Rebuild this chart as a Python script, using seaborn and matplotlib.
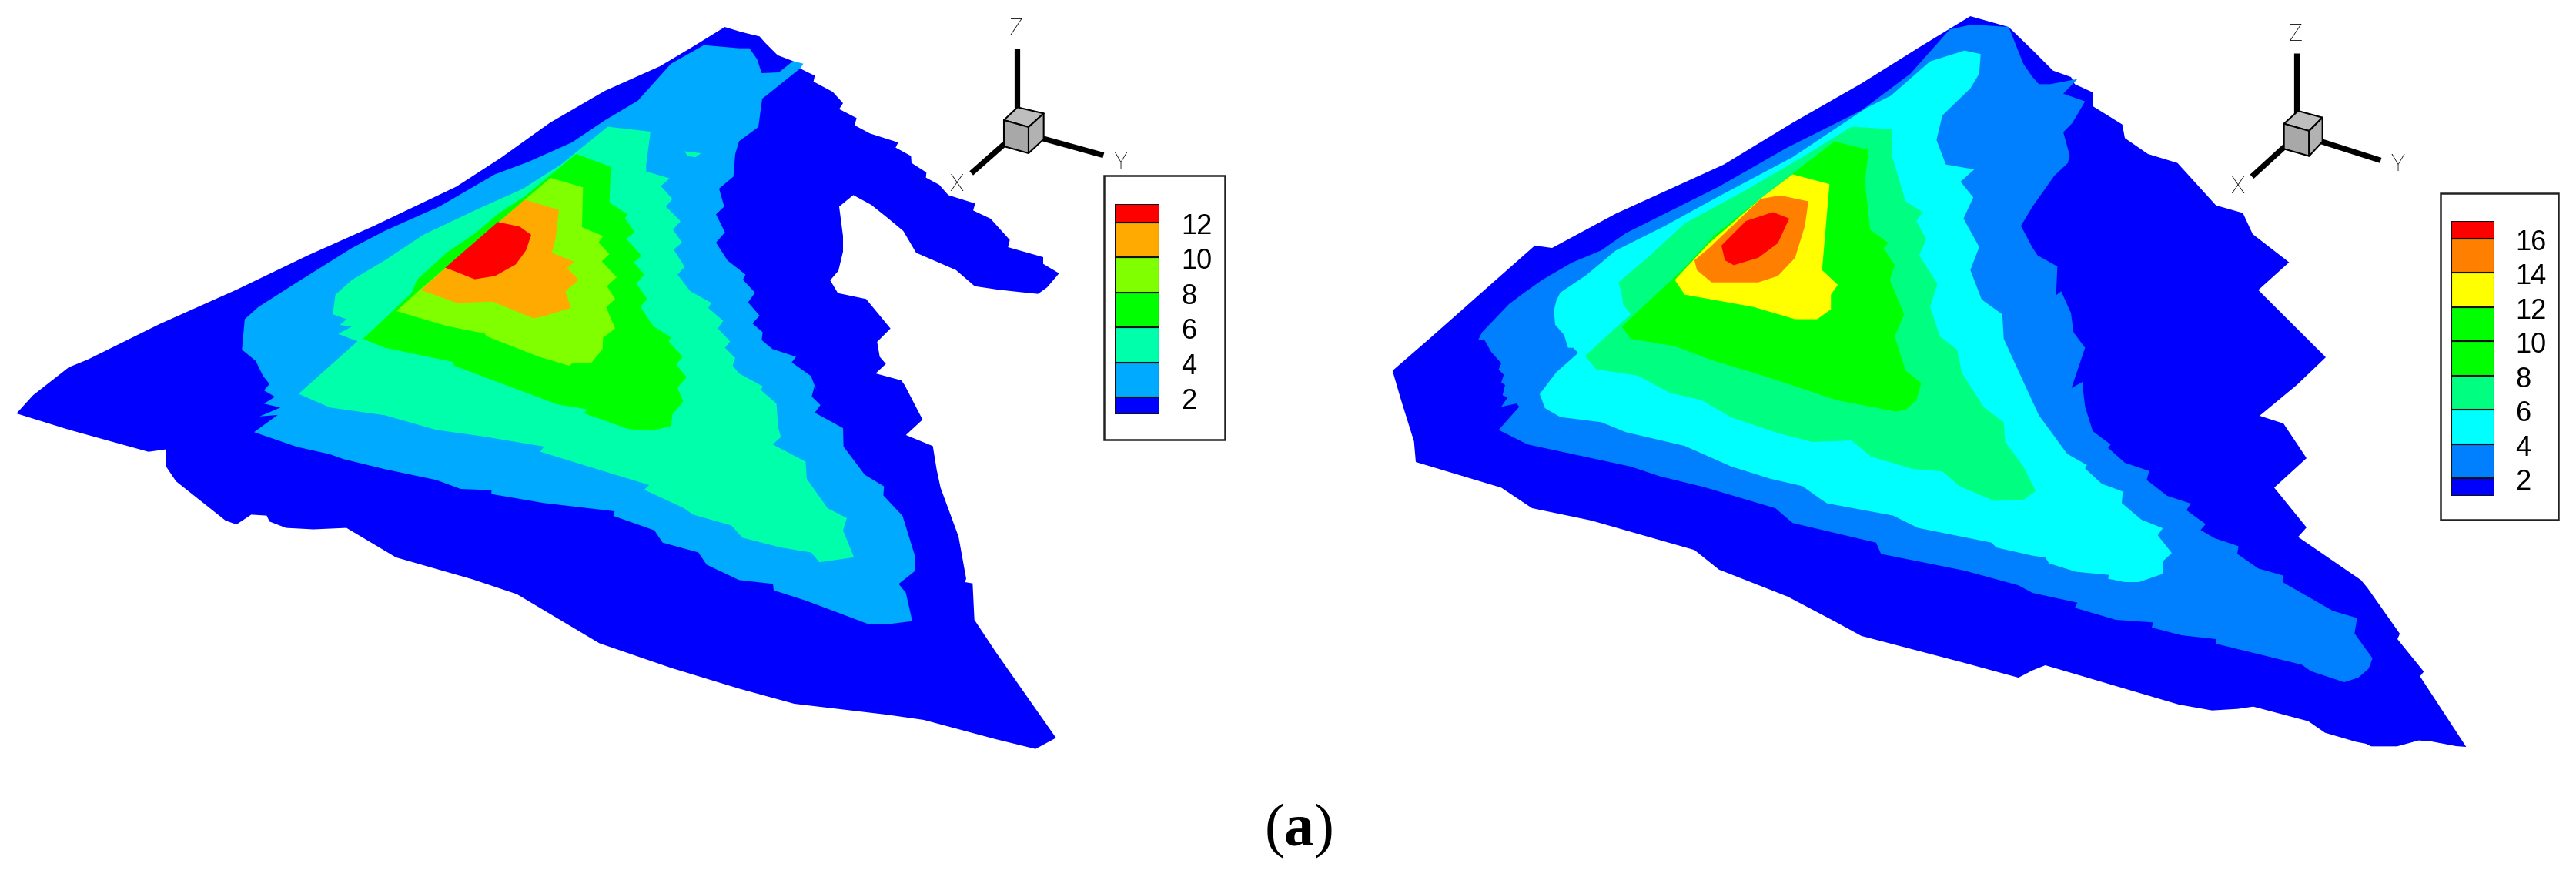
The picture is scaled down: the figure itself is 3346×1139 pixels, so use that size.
"""
Contour maps (two panels) with triad and level legend, digitised from the figure.
"""

import matplotlib
matplotlib.use('Agg')
import matplotlib.pyplot as plt
import seaborn as sns

# ---------------------------------------------------------------------------
# Digitising frames: crop origin and scale (x0, y0, sx, sy) of the traced crops
# ---------------------------------------------------------------------------
Z1 = (0, 0, 1.4, 1.568)
Z2 = (1780, 0, 1.568, 1.568)
Z6 = (960, 20, 3, 3)
Z7 = (960, 500, 3, 3)
Z8 = (2640, 20, 3, 3)
Z9 = (2640, 500, 3, 3)
Z10 = (3060, 780, 3, 3)
ZC = (500, 200, 3, 3)
ZD = (1780, 380, 3, 3)

# ---------------------------------------------------------------------------
# Legends
# ---------------------------------------------------------------------------
LEFT_LEVELS = [2, 4, 6, 8, 10, 12]
LEFT_RANGE = (1.03, 13.06)
LEFT_COLORS = ['#0000ff', '#00aaff', '#00ffaa', '#00ff00', '#7fff00', '#ffaa00', '#ff0000']

RIGHT_LEVELS = [2, 4, 6, 8, 10, 12, 14, 16]
RIGHT_RANGE = (0.96, 17.04)
RIGHT_COLORS = ['#0000ff', '#0080ff', '#00ffff', '#00ff80', '#00ff00', '#00ff00', '#ffff00', '#ff8000', '#ff0000']

# ---------------------------------------------------------------------------
# Left panel: filled contour regions, lowest band first
# ---------------------------------------------------------------------------
L1 = [
    (Z1, [(30, 842), (60, 805), (125, 748), (160, 732), (290, 660), (430, 590), (560, 520), (680, 460),
          (830, 380), (910, 322), (1000, 250), (1100, 185), (1200, 135), (1260, 95), (1318, 55)]),
    (Z6, [(0, 62), (30, 70), (80, 82), (100, 105), (150, 155), (210, 178), (240, 208), (295, 235), (290, 258),
          (365, 298), (405, 342), (390, 365), (458, 400), (450, 428), (510, 460), (620, 495), (610, 515),
          (670, 548), (672, 575), (730, 612), (728, 632), (780, 660), (815, 700), (920, 733), (912, 760),
          (980, 792), (1055, 875), (1048, 903), (1185, 942), (1185, 968), (1247, 1005), (1200, 1060),
          (1165, 1085), (1095, 1078), (1005, 1068), (918, 1055), (845, 992), (690, 925), (640, 840),
          (580, 790), (515, 738), (445, 700), (390, 745), (405, 860), (405, 920), (387, 995), (355, 1032),
          (385, 1082), (495, 1105), (590, 1220), (538, 1272), (548, 1330), (572, 1358), (532, 1395),
          (632, 1422)]),
    (Z7, [(645, 0), (715, 135), (650, 195), (755, 238), (770, 330), (785, 400), (855, 590), (885, 755),
          (880, 768), (910, 773), (917, 915), (1000, 1040), (1235, 1375), (1155, 1418), (1000, 1380),
          (720, 1305), (580, 1285), (215, 1242), (0, 1183)]),
    (Z1, [(1220, 1360), (1090, 1310), (1030, 1270), (940, 1210), (860, 1180), (720, 1135), (660, 1095),
          (630, 1075), (570, 1078), (520, 1075), (490, 1062), (485, 1050), (457, 1048), (430, 1068),
          (410, 1060), (320, 980), (302, 950), (302, 915), (270, 920), (125, 875)]),
]
L2 = [
    (Z1, [(462, 880), (505, 845), (472, 848), (510, 830), (480, 822), (500, 808), (480, 795), (490, 782),
          (478, 765), (465, 735), (440, 712), (445, 650), (470, 625), (540, 575), (640, 505), (700, 470),
          (800, 420), (900, 355), (960, 330), (1040, 290), (1100, 245), (1160, 205), (1220, 130), (1280, 92)]),
    (Z6, [(0, 128), (40, 128), (70, 170), (88, 225), (155, 222), (210, 178), (250, 188), (240, 205), (90, 325),
          (75, 435), (0, 490)]),
    (ZC, [(1365, 0), (1358, 88), (1302, 135), (1322, 205), (1290, 235), (1325, 305), (1290, 345), (1335, 415),
          (1380, 450)]),
    (Z6, [(25, 1010), (15, 1030), (62, 1080), (35, 1118), (80, 1170), (52, 1200), (92, 1235),
          (88, 1265), (130, 1300), (222, 1330), (205, 1352), (280, 1405), (305, 1470)]),
    (Z7, [(295, 0), (283, 45), (317, 78), (295, 108), (405, 168), (407, 240), (490, 350), (565, 395),
          (562, 430), (637, 510), (685, 665), (685, 725), (622, 775), (650, 810), (675, 920), (595, 930),
          (500, 930), (260, 840), (135, 800), (132, 775), (0, 760)]),
    (Z1, [(1285, 1150), (1270, 1125), (1205, 1105), (1190, 1080)]),
    (ZC, [(890, 1410), (895, 1392), (620, 1360), (415, 1325), (415, 1310), (295, 1305), (200, 1270), (0, 1228)]),
    (Z1, [(625, 935), (600, 925), (540, 910)]),
]
L3 = [
    (Z1, [(543, 802), (650, 695), (615, 680), (640, 665), (618, 662), (630, 650), (605, 640), (610, 600),
          (640, 570), (700, 530), (770, 478), (870, 425), (950, 385), (1020, 335), (1105, 258), (1183, 268)]),
    (ZC, [(1018, 40), (1018, 68), (1110, 95), (1075, 125), (1120, 175), (1095, 205), (1152, 262), (1122, 295),
          (1158, 345), (1125, 372), (1168, 440), (1140, 470), (1190, 535), (1272, 580), (1260, 600), (1318, 650),
          (1297, 680), (1345, 730), (1325, 755), (1365, 795), (1355, 825), (1380, 855), (1472, 905), (1465, 920),
          (1500, 950)]),
    (Z1, [(1412, 822), (1415, 870), (1420, 890), (1405, 905), (1465, 940), (1467, 975),
          (1505, 1035), (1540, 1055), (1533, 1080), (1553, 1135), (1490, 1145), (1475, 1125), (1420, 1115),
          (1350, 1095), (1330, 1070)]),
    (ZC, [(1200, 1405), (1165, 1380), (1010, 1308), (1030, 1290), (850, 1235), (605, 1160), (620, 1140),
          (380, 1100), (200, 1075), (0, 1018)]),
    (Z1, [(600, 830)]),
]
L3_ISLAND = [(Z1, [(1245, 308), (1275, 312), (1265, 320), (1250, 318)])]
L4 = [
    (Z1, [(660, 690)]),
    (ZC, [(0, 640), (105, 540), (125, 490), (240, 385), (350, 310), (445, 230), (545, 165), (745, 0), (880, 50),
          (875, 190), (945, 235), (935, 250), (973, 305), (940, 330), (1000, 397), (970, 422), (1010, 470),
          (980, 505), (1022, 565), (995, 595), (1045, 670), (1115, 715), (1105, 730), (1160, 790), (1135, 820),
          (1175, 870), (1140, 910), (1162, 965), (1120, 1015), (1115, 1060), (1040, 1078), (950, 1072),
          (775, 1010), (790, 995), (670, 975), (270, 825), (265, 810), (0, 755)]),
]
L5 = [
    (ZC, [(45, 612), (135, 530), (545, 178), (645, 93), (772, 130), (768, 285), (850, 320), (832, 345), (875, 390),
          (845, 418), (903, 480), (865, 515), (897, 565), (862, 597), (897, 680), (850, 715), (848, 760),
          (803, 815), (730, 815), (718, 825), (600, 790), (395, 710), (390, 700), (240, 670)]),
]
L6 = [
    (ZC, [(140, 530), (235, 445), (445, 265), (545, 178), (678, 218), (665, 330), (650, 385), (738, 420), (710, 445),
          (755, 490), (703, 535), (725, 600), (615, 633), (578, 640), (420, 575), (280, 580)]),
]
L7 = [
    (ZC, [(235, 443), (440, 265), (525, 283), (570, 315), (550, 375), (510, 430), (430, 475), (350, 488), (280, 460)]),
]

# ---------------------------------------------------------------------------
# Right panel
# ---------------------------------------------------------------------------
R1 = [
    (Z2, [(45, 755), (120, 690), (250, 575), (335, 500), (370, 505), (500, 435), (720, 335), (860, 250),
          (1000, 170), (1120, 95), (1222, 33), (1300, 55)]),
    (Z8, [(0, 135), (80, 215), (150, 240), (165, 268), (235, 300), (237, 355), (350, 425), (360, 478),
          (450, 540), (565, 575), (715, 740), (820, 770), (858, 852), (1000, 962), (880, 1070), (1143, 1332)]),
    (Z9, [(1030, 0), (885, 120), (978, 150), (1068, 285), (942, 400), (1068, 555), (1035, 592), (1280, 760),
          (1305, 790), (1432, 970)]),
    (Z10, [(172, 128), (162, 150), (265, 277), (250, 295), (430, 570), (390, 567), (290, 548), (245, 545),
           (190, 560), (160, 568), (60, 568), (40, 558), (0, 550)]),
    (Z9, [(1140, 1355), (1075, 1310), (860, 1253), (800, 1262), (700, 1268), (570, 1245), (50, 1092), (0, 1112)]),
    (Z2, [(1320, 1380), (1210, 1350), (1000, 1295), (945, 1265), (850, 1215), (710, 1160), (660, 1120),
          (450, 1060), (330, 1035)]),
    (ZD, [(630, 840), (510, 760), (177, 660), (170, 580), (120, 420), (85, 300)]),
]
R2 = [
    (ZD, [(500, 535), (580, 445), (570, 432), (510, 445), (535, 408), (515, 400), (525, 360), (510, 350),
          (520, 320), (500, 300), (510, 275), (470, 230), (445, 185), (420, 185), (435, 155), (540, 45), (600, 0)]),
    (Z2, [(350, 570), (410, 535), (470, 510), (520, 475), (600, 435), (710, 380), (850, 300), (1000, 225),
          (1100, 150), (1180, 60), (1225, 50), (1300, 55), (1330, 130)]),
    (Z8, [(0, 240), (25, 268), (70, 268), (175, 248), (120, 305), (205, 335), (155, 420), (120, 455),
          (145, 545), (138, 575), (85, 625), (0, 745)]),
    (Z2, [(1325, 460)]),
    (Z8, [(0, 905), (20, 935), (97, 978), (92, 1090), (112, 1075), (150, 1160), (160, 1235), (205, 1295),
          (152, 1452), (195, 1428)]),
    (Z9, [(195, 0), (205, 85), (235, 180), (305, 232), (295, 245), (360, 303), (455, 335), (445, 370),
          (525, 432), (617, 462), (600, 488), (675, 542), (655, 565), (710, 597), (803, 628), (798, 658),
          (880, 715), (975, 742), (978, 770), (1170, 880), (1265, 908), (1255, 968), (1325, 1065),
          (1310, 1105), (1270, 1140), (1215, 1158), (1085, 1115), (1050, 1090), (715, 1008), (715, 990),
          (580, 975), (465, 945), (470, 925), (325, 915), (165, 868), (175, 848), (0, 810)]),
    (Z2, [(1320, 1192), (1210, 1162), (1040, 1128), (1030, 1105), (860, 1065), (825, 1035), (680, 992),
          (590, 970), (530, 950), (320, 905)]),
]
R3 = [
    (ZD, [(660, 395), (725, 310), (810, 235), (790, 215), (770, 215), (755, 165), (720, 125), (715, 70), (725, 30),
          (740, 0)]),
    (Z2, [(440, 560), (500, 510), (600, 460), (700, 405), (860, 320), (1010, 220), (1060, 195), (1140, 125),
          (1210, 103), (1243, 110), (1240, 150), (1222, 180), (1165, 235), (1153, 285), (1172, 335), (1230, 345),
          (1202, 370), (1228, 402), (1208, 445), (1240, 503), (1222, 550), (1245, 610), (1287, 640),
          (1290, 690), (1322, 760)]),
    (Z9, [(25, 118), (135, 268), (212, 312), (205, 325), (270, 385), (352, 415), (348, 460), (425, 525),
          (508, 558), (488, 585), (543, 655), (510, 685), (510, 735), (415, 768), (360, 768), (295, 755),
          (298, 740), (170, 728), (65, 695), (50, 672), (0, 665)]),
    (Z2, [(1275, 1115), (1265, 1105), (1115, 1075), (1065, 1050), (930, 1025), (915, 1015), (880, 990),
          (815, 975), (735, 950), (640, 908), (520, 880)]),
    (ZD, [(900, 505), (740, 485), (680, 450)]),
]
R4 = [
    (Z2, [(437, 725), (530, 640), (515, 620), (510, 590), (505, 575), (570, 520), (640, 455), (760, 390),
          (880, 320), (980, 258), (1063, 263), (1063, 320), (1090, 410), (1125, 432), (1112, 450), (1132, 487),
          (1118, 520), (1155, 578), (1140, 625), (1160, 685), (1195, 712), (1205, 760), (1250, 830),
          (1290, 860), (1293, 900), (1330, 950), (1355, 1000), (1330, 1018), (1270, 1020), (1200, 990),
          (1165, 960), (1105, 955), (1020, 930), (980, 897), (900, 900), (830, 882), (735, 850), (675, 815),
          (610, 800), (545, 765), (460, 752)]),
]
R5 = [
    (Z2, [(512, 665), (640, 545), (700, 480), (800, 400), (945, 288), (1015, 305), (1007, 370), (1018, 468),
          (1055, 495), (1045, 505), (1068, 540), (1058, 570), (1087, 640), (1068, 685), (1090, 755),
          (1122, 780), (1112, 815), (1090, 835), (1070, 838), (950, 815), (800, 765), (700, 735), (620, 705),
          (530, 690)]),
]
R6 = [
    (Z2, [(620, 570), (690, 495), (800, 400), (860, 355), (935, 375), (920, 550), (952, 580), (938, 600),
          (938, 630), (910, 650), (865, 650), (780, 625), (640, 600)]),
]
R7 = [
    (Z2, [(660, 530), (690, 505), (795, 405), (835, 398), (892, 410), (885, 460), (865, 525), (830, 562),
          (790, 575), (695, 575), (665, 550)]),
]
R8 = [
    (Z2, [(715, 500), (765, 450), (820, 432), (853, 445), (830, 495), (790, 525), (740, 540), (722, 530)]),
]

LEFT_REGIONS = [(L1, 0), (L2, 1), (L3, 2), (L3_ISLAND, 2), (L4, 3), (L5, 4), (L6, 5), (L7, 6)]
RIGHT_REGIONS = [(R1, 0), (R2, 1), (R3, 2), (R4, 3), (R5, 4), (R6, 6), (R7, 7), (R8, 8)]

FIG_W, FIG_H = 3346, 1139


def trace(segments):
    """Turns traced crop segments into figure pixel coordinates."""
    xs, ys = [], []
    for (x0, y0, sx, sy), pts in segments:
        for px, py in pts:
            xs.append(x0 + px / sx)
            ys.append(y0 + py / sy)
    return xs, ys


def draw_regions(ax, regions, colors):
    for segments, band in regions:
        xs, ys = trace(segments)
        ax.fill(xs, ys, color=colors[band], linewidth=0)


def draw_triad(ax, frame, z_axis, x_axis, y_axis, top, front, side, letters):
    """Coordinate triad: three thick arms, a shaded cube and the letters."""
    for arm in (z_axis, x_axis, y_axis):
        xs, ys = trace([(frame, arm)])
        sns.lineplot(x=xs, y=ys, sort=False, estimator=None, color='black', linewidth=5.2,
                     solid_capstyle='butt', ax=ax, legend=False)
    for face, shade in ((top, '#bebebe'), (front, '#a8a8a8'), (side, '#b2b2b2')):
        xs, ys = trace([(frame, face)])
        ax.fill(xs, ys, facecolor=shade, edgecolor='black', linewidth=1.5, zorder=3, joinstyle='round')
    for name, pos in letters.items():
        xs, ys = trace([(frame, [pos])])
        ax.text(xs[0], ys[0], name, fontsize=22, family='Roboto', fontweight='light', ha='center', va='center',
                color='black')


def draw_legend(fig, ax, box, bar, levels, value_range, colors, label_x):
    """Framed colour key, drawn as stacked bars on its own value axis."""
    x0, y0, x1, y1 = box
    ax.fill([x0, x1, x1, x0], [y0, y0, y1, y1], facecolor='white', edgecolor='#222222', linewidth=1.8)

    bx0, by0, bx1, by1 = bar
    cax = fig.add_axes([bx0 / FIG_W, 1 - by1 / FIG_H, (bx1 - bx0) / FIG_W, (by1 - by0) / FIG_H])
    edges = [value_range[0]] + levels + [value_range[1]]
    for low, high, color in zip(edges[:-1], edges[1:], colors):
        cax.bar(0, high - low, bottom=low, width=1, color=color, edgecolor='#111111', linewidth=1.5)
    cax.set_xlim(-0.5, 0.5)
    cax.set_ylim(*value_range)
    cax.axis('off')
    for level in levels:
        cax.annotate(str(level), xy=(1.0, level), xycoords=('axes fraction', 'data'),
                     xytext=(label_x - bx1, -5.5), textcoords='offset pixels',
                     ha='left', va='center', fontsize=26, family='Liberation Sans', color='black',
                     annotation_clip=False)


sns.set_theme(style='white')
plt.rcParams['mathtext.fontset'] = 'custom'
plt.rcParams['mathtext.bf'] = 'Liberation Serif:bold'

fig = plt.figure(figsize=(FIG_W / 100, FIG_H / 100), dpi=100, facecolor='white')
ax = fig.add_axes([0, 0, 1, 1])
ax.set_xlim(0, FIG_W)
ax.set_ylim(FIG_H, 0)
ax.axis('off')

draw_regions(ax, LEFT_REGIONS, sns.color_palette(LEFT_COLORS))
draw_regions(ax, RIGHT_REGIONS, sns.color_palette(RIGHT_COLORS))

draw_triad(ax, Z6,
           z_axis=[(1082, 128), (1082, 365)], x_axis=[(1035, 500), (905, 615)], y_axis=[(1185, 480), (1420, 545)],
           top=[(1032, 408), (1085, 358), (1187, 382), (1128, 435)],
           front=[(1032, 408), (1128, 435), (1128, 537), (1032, 510)],
           side=[(1128, 435), (1187, 382), (1187, 482), (1128, 537)],
           letters={'Z': (1080, 52), 'X': (848, 657), 'Y': (1487, 572)})
draw_triad(ax, Z8,
           z_axis=[(1028, 148), (1028, 380)], x_axis=[(982, 512), (855, 628)], y_axis=[(1128, 492), (1357, 565)],
           top=[(980, 422), (1035, 372), (1130, 398), (1078, 450)],
           front=[(980, 422), (1078, 450), (1078, 548), (980, 520)],
           side=[(1078, 450), (1130, 398), (1130, 492), (1078, 548)],
           letters={'Z': (1026, 73), 'X': (800, 667), 'Y': (1424, 580)})

draw_legend(fig, ax, box=(1434, 228, 1591, 571), bar=(1448, 265, 1506, 538),
            levels=LEFT_LEVELS, value_range=LEFT_RANGE, colors=LEFT_COLORS, label_x=1534)
draw_legend(fig, ax, box=(3170, 251, 3323, 675), bar=(3184, 287, 3240, 644),
            levels=RIGHT_LEVELS, value_range=RIGHT_RANGE, colors=RIGHT_COLORS, label_x=3267)

ax.text(1687, 1079, r'($\mathbf{a}$)', fontsize=56, family='Liberation Serif', ha='center', va='center',
        color='black')

fig.savefig('out.png', dpi=100, facecolor='white')
